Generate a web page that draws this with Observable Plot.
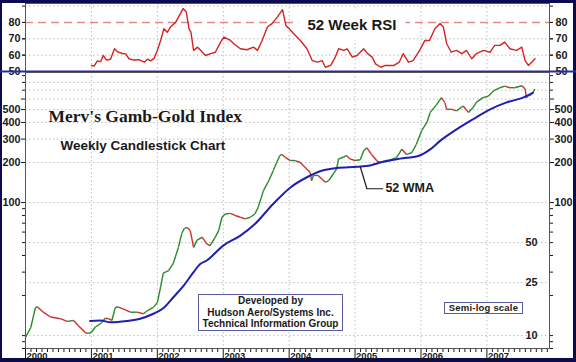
<!DOCTYPE html>
<html>
<head>
<meta charset="utf-8">
<script src="https://cdn.jsdelivr.net/npm/d3@7"></script>
<script src="https://cdn.jsdelivr.net/npm/@observablehq/plot@0.6"></script>
<style>
html,body{margin:0;padding:0;background:#0b0b4e;}
#wrap{position:relative;width:576px;height:362px;background:#0b0b4e;overflow:hidden;font-family:'Liberation Sans',Arial,sans-serif;}
#inner{position:absolute;left:2px;top:3px;width:571px;height:355px;background:#fff;}
#wrap svg{position:absolute;left:0;top:0;}
.box{position:absolute;border:1px solid #5a5aa0;background:#fff;color:#1a1a1a;font-weight:bold;text-align:center;white-space:nowrap;}
#dev{left:198px;top:294px;width:143px;font-size:10px;line-height:11.5px;}
#semi{left:444px;top:302px;width:77px;height:10px;font-size:9.5px;line-height:10px;letter-spacing:0.2px;}
</style>
</head>
<body>
<div id="wrap"><div id="inner"></div></div>
<script>
// ---- data ----
const yearTicks = [2000, 2001, 2002, 2003, 2004, 2005, 2006, 2007];
const rsiTicks = [50, 60, 70, 80];
const priceLabels = [100, 200, 300, 400, 500, 600];
const priceInnerLabels = [10, 25, 50];
const priceGrid = [10, 25, 50, 100, 200, 300, 400, 500, 600, 700, 800];
const priceMinor = [8, 9, 10, 20, 30, 40, 50, 60, 70, 80, 90, 700, 800, 900];

const priceT = [2000.00,2000.08,2000.12,2000.15,2000.18,2000.27,2000.38,2000.53,2000.63,2000.73,2000.80,2000.91,2000.95,2001.00,2001.06,2001.14,2001.21,2001.26,2001.31,2001.36,2001.39,2001.48,2001.59,2001.69,2001.79,2001.86,2001.94,2002.00,2002.05,2002.09,2002.17,2002.24,2002.32,2002.37,2002.41,2002.45,2002.50,2002.55,2002.60,2002.68,2002.75,2002.80,2002.88,2002.93,2002.98,2003.03,2003.11,2003.18,2003.26,2003.33,2003.41,2003.48,2003.53,2003.61,2003.69,2003.76,2003.81,2003.86,2003.89,2003.94,2004.02,2004.09,2004.17,2004.24,2004.32,2004.34,2004.37,2004.44,2004.50,2004.55,2004.60,2004.67,2004.72,2004.75,2004.82,2004.87,2004.92,2005.00,2005.08,2005.13,2005.18,2005.25,2005.33,2005.38,2005.45,2005.53,2005.63,2005.71,2005.78,2005.86,2005.93,2006.01,2006.09,2006.14,2006.24,2006.31,2006.36,2006.39,2006.47,2006.54,2006.64,2006.72,2006.79,2006.84,2006.94,2007.02,2007.10,2007.20,2007.27,2007.35,2007.42,2007.53,2007.58,2007.60,2007.62,2007.68,2007.73];
const priceClose = [9.7,11.5,14,16.2,16.5,15.0,13.8,13.4,12.8,13.0,11.9,10.5,10.4,10.6,11.6,12.3,13.5,13.4,13.0,16.1,16.5,15.9,15.0,15.0,14.6,15.5,16.3,17.7,23.2,29.5,30.8,34.7,46,58.5,64,65,61.6,46,52,55,49,47.5,55,61.6,77.6,82,83,80,77.6,75.5,77.6,82,92,123,146,174,200,226,230,219,207,207,200,184,168,146,160,160,150,142,146,164,179,213,219,226,213,207,210,245,258,230,206,200,206,209,218,252,230,237,274,347,400,476,547,615,566,502,502,489,532,476,518,566,615,630,690,730,750,730,730,755,714,615,630,650,714];

const wmaT = [2000.98,2001.14,2001.29,2001.54,2001.74,2001.94,2002.10,2002.25,2002.40,2002.55,2002.65,2002.75,2003.00,2003.26,2003.48,2003.76,2004.02,2004.27,2004.47,2004.72,2005.03,2005.23,2005.38,2005.68,2005.96,2006.14,2006.29,2006.54,2006.79,2007.05,2007.30,2007.55,2007.70];
const wmaV = [12.9,13.0,12.6,12.9,13.4,14.6,16.2,19.6,23.8,30,34.5,36.7,47.5,56.5,69,98,130,155,172,182,186,190,200,214,224,251,291,355,423,502,566,615,670];

const rsiT = [2001.00,2001.04,2001.09,2001.14,2001.18,2001.23,2001.29,2001.35,2001.40,2001.47,2001.52,2001.57,2001.64,2001.72,2001.80,2001.85,2001.90,2001.95,2002.00,2002.05,2002.10,2002.15,2002.20,2002.28,2002.35,2002.39,2002.44,2002.48,2002.51,2002.55,2002.61,2002.66,2002.73,2002.81,2002.88,2002.96,2003.01,2003.11,2003.16,2003.26,2003.36,2003.46,2003.52,2003.59,2003.67,2003.74,2003.82,2003.90,2003.95,2004.00,2004.07,2004.17,2004.27,2004.35,2004.43,2004.50,2004.55,2004.63,2004.70,2004.75,2004.83,2004.88,2004.96,2005.03,2005.13,2005.19,2005.26,2005.31,2005.39,2005.46,2005.59,2005.67,2005.73,2005.81,2005.88,2005.98,2006.06,2006.13,2006.21,2006.29,2006.34,2006.39,2006.46,2006.54,2006.62,2006.69,2006.77,2006.84,2006.95,2007.05,2007.12,2007.20,2007.27,2007.35,2007.45,2007.53,2007.58,2007.63,2007.68,2007.73];
const rsiV = [53.7,53.3,56.5,56.0,59.8,57.0,57.5,63.9,62.0,61.0,60.8,57.8,57.0,57.2,55.7,57.5,56.5,58.0,62.9,69,76.2,74,77.2,80.2,85.4,88.5,86.4,76.2,74.1,62.9,64.9,62.9,59.8,60.9,61.8,68,71,69,67,63.9,63.3,64.9,62.9,69,77.2,79.3,83.3,87.8,78.2,76.2,73.1,69,63.9,56.7,55.7,56.7,52.6,53.7,58.8,63.9,62.9,63.9,58.8,59.8,63.9,60.9,58.8,54.7,52.6,53.7,53.7,55.7,60.9,55.7,56.7,62.9,69,69,76.2,79.3,77.2,67,61.8,62.9,60.9,62.9,57.8,60.9,62.9,61.8,66,66,68,63.9,62.9,64.9,56.7,53.7,55.7,57.8];

const leaderT = [2005.08, 2005.18, 2005.42];
const leaderV = [185, 127, 127];
const wmaLabel = {t: 2005.46, v: 129.6, text: "52 WMA"};
const rsiTitle = "52 Week RSI";
const chartTitle = "Merv's Gamb-Gold Index";
const chartSubtitle = "Weekly Candlestick Chart";

// ---- tables ----
const candles = priceT.slice(1).map((t, i) => ({
  t0: priceT[i], c0: priceClose[i], t1: t, c1: priceClose[i + 1],
  up: priceClose[i + 1] >= priceClose[i]
}));
const wma = wmaT.map((t, i) => ({t, v: wmaV[i]}));
const rsi = rsiT.map((t, i) => ({t, v: rsiV[i]}));
const leader = leaderT.map((t, i) => ({t, v: leaderV[i]}));
const monthTicks = yearTicks.flatMap(y => d3.range(1, 12).map(m => y + m / 12)).filter(t => t < 2007.95);

const GREEN = "#2a8a2a", RED = "#cc3030", BLUE = "#1f1fb0", INK = "#1a1a1a";
const gridOpts = {stroke: "#bdbdbd", strokeOpacity: 1, strokeDasharray: "1.5,2.5"};
const baseStyle = {background: "transparent", overflow: "visible", fontFamily: "'Liberation Sans', Arial, sans-serif", color: INK};
const xDomain = [2000, 2007.95];
const LBL = 10.8;

// ---- RSI panel ----
const rsiPlot = Plot.plot({
  width: 576, height: 80,
  marginLeft: 25, marginRight: 27, marginTop: 3, marginBottom: 9,
  x: {domain: xDomain, axis: null},
  y: {domain: [50, 91.6]},
  style: baseStyle,
  marks: [
    Plot.gridX(yearTicks.slice(1), gridOpts),
    Plot.gridY([60, 70, 90], gridOpts),
    Plot.ruleY([80], {stroke: "#e08a8a", strokeWidth: 1.5, strokeDasharray: "8,5"}),
    Plot.line(rsi, {x: "t", y: "v", stroke: "#d42424", strokeWidth: 1.4}),
    Plot.text([rsiTitle], {text: d => d, frameAnchor: "top-left", dx: 282, dy: 16.2, textAnchor: "start",
      fontSize: 15, fontWeight: "bold", fill: INK, stroke: "white", strokeWidth: 20, paintOrder: "stroke"}),
    Plot.axisY({ticks: [50, 60, 70, 80, 90], anchor: "left", tickSize: 3, fill: "none", label: null}),
    Plot.axisY({ticks: rsiTicks, anchor: "left", tickSize: 3, tickPadding: 2, fontSize: LBL, fontWeight: "bold", label: null}),
    Plot.axisY({ticks: [50, 60, 70, 80, 90], anchor: "right", tickSize: 3, fill: "none", label: null}),
    Plot.axisY({ticks: rsiTicks, anchor: "right", tickSize: 3, tickPadding: 3, fontSize: LBL, fontWeight: "bold", label: null}),
    Plot.frame({stroke: "#555"}),
    Plot.ruleY([50], {stroke: "#2a2aa8", strokeWidth: 2, insetLeft: -25, insetRight: -27})
  ]
});

// ---- price panel ----
const pricePlot = Plot.plot({
  width: 576, height: 362,
  marginLeft: 25, marginRight: 27, marginTop: 72, marginBottom: 14,
  x: {domain: xDomain},
  y: {type: "log", domain: [8, 950]},
  color: {type: "identity"},
  style: baseStyle,
  marks: [
    Plot.gridX(yearTicks.slice(1), gridOpts),
    Plot.gridY(priceGrid, gridOpts),
    Plot.link(candles, {x1: "t0", y1: "c0", x2: "t1", y2: "c1", stroke: d => d.up ? GREEN : RED, strokeWidth: 1.4}),
    Plot.line(wma, {x: "t", y: "v", stroke: BLUE, strokeWidth: 2, curve: "monotone-x"}),
    Plot.line(leader, {x: "t", y: "v", stroke: INK, strokeWidth: 1.2}),
    Plot.text([wmaLabel], {x: "t", y: "v", text: "text", textAnchor: "start", fontSize: 12.5, fontWeight: "bold", fill: INK}),
    Plot.text([chartTitle], {text: d => d, frameAnchor: "top-left", dx: 23, dy: 37.4, textAnchor: "start",
      fontFamily: "'Liberation Serif', 'Times New Roman', serif", fontSize: 17.5, fontWeight: "bold", fill: INK}),
    Plot.text([chartSubtitle], {text: d => d, frameAnchor: "top-left", dx: 35, dy: 67.7, textAnchor: "start",
      fontSize: 13.5, fontWeight: "bold", fill: INK}),
    Plot.axisY({ticks: priceMinor, anchor: "left", tickSize: 3, fill: "none", label: null}),
    Plot.axisY({ticks: priceLabels, anchor: "left", tickSize: 4, tickPadding: 1, fontSize: LBL, fontWeight: "bold", tickFormat: d => String(d), label: null}),
    Plot.axisY({ticks: priceMinor, anchor: "right", tickSize: 3, fill: "none", label: null}),
    Plot.axisY({ticks: priceLabels, anchor: "right", tickSize: 4, tickPadding: 1, fontSize: LBL, fontWeight: "bold", tickFormat: d => String(d), label: null}),
    Plot.axisY({ticks: priceInnerLabels, anchor: "right", tickSize: 0, tickPadding: 0, textAnchor: "end", dx: -12, fontSize: LBL, fontWeight: "bold", tickFormat: d => String(d), label: null}),
    Plot.axisX({ticks: monthTicks, anchor: "bottom", tickSize: 4, fill: "none", label: null}),
    Plot.axisX({ticks: yearTicks, anchor: "bottom", tickSize: 11, fill: "none", label: null}),
    Plot.axisX({ticks: yearTicks, anchor: "bottom", tickSize: 0, tickPadding: 4, textAnchor: "start", dx: 1,
      fontSize: 9.5, fontWeight: "bold", tickFormat: d => String(d), label: null}),
    Plot.frame({stroke: "#555"})
  ]
});

const wrap = document.getElementById("wrap");
wrap.appendChild(rsiPlot);
wrap.appendChild(pricePlot);

const dev = document.createElement("div");
dev.className = "box"; dev.id = "dev";
dev.innerHTML = "Developed by<br>Hudson Aero/Systems Inc.<br>Technical Information Group";
wrap.appendChild(dev);
const semi = document.createElement("div");
semi.className = "box"; semi.id = "semi";
semi.textContent = "Semi-log scale";
wrap.appendChild(semi);
</script>
</body>
</html>
